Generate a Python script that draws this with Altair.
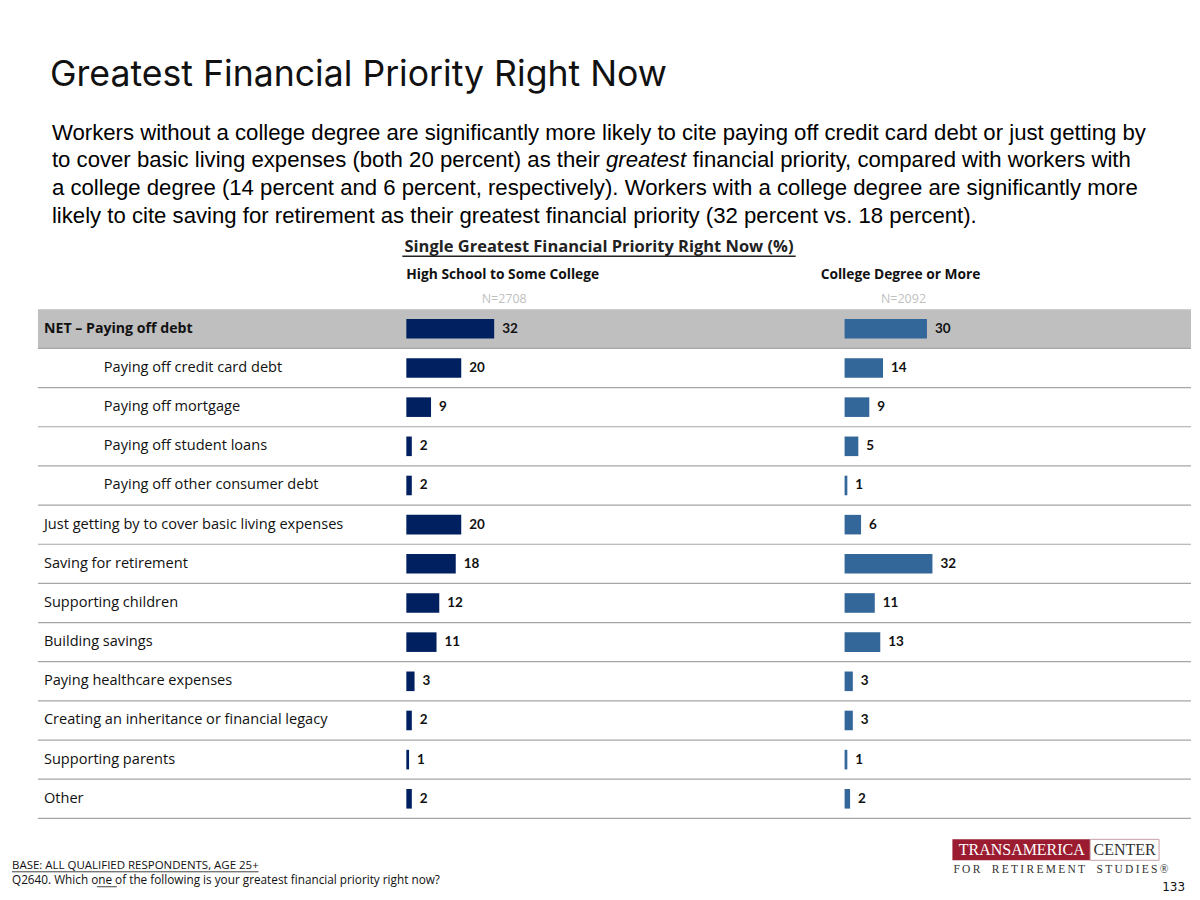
import altair as alt
import pandas as pd

categories = [
    "NET \u2013 Paying off debt",
    "Paying off credit card debt",
    "Paying off mortgage",
    "Paying off student loans",
    "Paying off other consumer debt",
    "Just getting by to cover basic living expenses",
    "Saving for retirement",
    "Supporting children",
    "Building savings",
    "Paying healthcare expenses",
    "Creating an inheritance or financial legacy",
    "Supporting parents",
    "Other",
]
levels = [0, 1, 1, 1, 1, 0, 0, 0, 0, 0, 0, 0, 0]
high_school = [32, 20, 9, 2, 2, 20, 18, 12, 11, 3, 2, 1, 2]
college = [30, 14, 9, 5, 1, 6, 32, 11, 13, 3, 3, 1, 2]

title = "Greatest Financial Priority Right Now"
para_lines = [
    "Workers without a college degree are significantly more likely to cite paying off credit card debt or just getting by",
    "to cover basic living expenses (both 20 percent) as their",
    "greatest",
    "financial priority, compared with workers with",
    "a college degree (14 percent and 6 percent, respectively). Workers with a college degree are significantly more",
    "likely to cite saving for retirement as their greatest financial priority (32 percent vs. 18 percent).",
]
table_title = "Single Greatest Financial Priority Right Now (%)"
group_names = ["High School to Some College", "College Degree or More"]
group_n = ["N=2708", "N=2092"]
base_note = "BASE: ALL QUALIFIED RESPONDENTS, AGE 25+"
question_note = "Q2640. Which one of the following is your greatest financial priority right now?"
logo_top = ["TRANSAMERICA", "CENTER"]
logo_bottom = "FOR RETIREMENT STUDIES\u00ae"
page_no = "133"

df = pd.DataFrame({
    "category": categories,
    "level": levels,
    "hs": high_school,
    "col": college,
    "net": [i == 0 for i in range(len(categories))],
})

LEFT_C = "#002060"
RIGHT_C = "#336699"
LABEL_FONT = "Open Sans"
NUM_FONT = "Lato"

yscale = alt.Scale(domain=categories, range=[301, 811], paddingInner=0, paddingOuter=0)
Y = alt.Y("category:N", scale=yscale, axis=None)
xs_left = alt.Scale(domain=[0, 100], range=[399, 674])
xs_right = alt.Scale(domain=[0, 100], range=[838, 1113])

base = alt.Chart(df)

bg = base.transform_filter("datum.net").mark_rect(color="#bfbfbf").encode(
    y=Y, x=alt.value(30), x2=alt.value(1185)
)
sep = base.mark_rule(color="#a6a6a6", strokeWidth=1.2).encode(
    y=alt.Y("category:N", scale=yscale, axis=None, bandPosition=1),
    x=alt.value(30), x2=alt.value(1185),
)

LS = 14.6
lab_main = base.transform_filter("datum.level == 0 && !datum.net").mark_text(
    align="left", baseline="middle", font=LABEL_FONT, fontSize=LS, color="#111111"
).encode(y=Y, x=alt.value(36), text="category:N")
lab_net = base.transform_filter("datum.net").mark_text(
    align="left", baseline="middle", font=LABEL_FONT, fontSize=14.2, fontWeight="bold", color="#111111"
).encode(y=Y, x=alt.value(36), text="category:N")
lab_sub = base.transform_filter("datum.level == 1").mark_text(
    align="left", baseline="middle", font=LABEL_FONT, fontSize=LS, color="#111111"
).encode(y=Y, x=alt.value(96), text="category:N")

bars_l = base.mark_bar(color=LEFT_C, height=alt.RelativeBandSize(0.5)).encode(
    y=Y, x=alt.X("hs:Q", scale=xs_left, axis=None)
)
text_l = base.mark_text(align="left", baseline="middle", dx=8, font=NUM_FONT, fontSize=13.5,
                        fontWeight="bold", color="#111111").encode(
    y=Y, x=alt.X("hs:Q", scale=xs_left, axis=None), text="hs:Q"
)
bars_r = base.mark_bar(color=RIGHT_C, height=alt.RelativeBandSize(0.5)).encode(
    y=Y, x=alt.X("col:Q", scale=xs_right, axis=None)
)
text_r = base.mark_text(align="left", baseline="middle", dx=8, font=NUM_FONT, fontSize=13.5,
                        fontWeight="bold", color="#111111").encode(
    y=Y, x=alt.X("col:Q", scale=xs_right, axis=None), text="col:Q"
)

left_group = alt.layer(bars_l, text_l)
right_group = alt.layer(bars_r, text_r)


def one():
    return alt.Chart(alt.Data(values=[{"k": 1}]))


def txt(s, x, y, align="left", **kw):
    return one().mark_text(text=s, align=align, baseline="alphabetic", **kw).encode(
        x=alt.value(x), y=alt.value(y)
    )


def rule(x1, x2, y, color="#222222", w=1.0):
    return one().mark_rule(color=color, strokeWidth=w).encode(
        x=alt.value(x1), x2=alt.value(x2), y=alt.value(y)
    )


def box(x1, x2, y1, y2, fill, stroke=""):
    kw = {"fill": fill}
    if stroke:
        kw["stroke"] = stroke
        kw["strokeWidth"] = 1
    return one().mark_rect(**kw).encode(
        x=alt.value(x1), x2=alt.value(x2), y=alt.value(y1), y2=alt.value(y2)
    )


spaced_bottom = "\u2003".join("\u2009".join(w) for w in logo_bottom.split(" "))

PF = "Liberation Sans"
PS = 22.2
annotations = [
    txt(title, 42, 77, font="Inter", fontSize=35.7, color="#111111"),
    txt(para_lines[0], 44, 131, font=PF, fontSize=PS, color="#000000"),
    txt(para_lines[1], 44, 159, font=PF, fontSize=PS, color="#000000"),
    txt(para_lines[2], 599, 159, font=PF, fontSize=PS, fontStyle="italic", color="#000000"),
    txt(para_lines[3], 686, 159, font=PF, fontSize=PS, color="#000000"),
    txt(para_lines[4], 44, 187, font=PF, fontSize=PS, color="#000000"),
    txt(para_lines[5], 44, 215, font=PF, fontSize=PS, color="#000000"),
    txt(table_title, 592, 244, align="center", font=LABEL_FONT, fontSize=16.5, fontWeight="bold", color="#222222"),
    rule(395, 789, 248, color="#222222", w=1.5),
    txt(group_names[0], 399, 271, font=LABEL_FONT, fontSize=13.8, fontWeight="bold", color="#111111"),
    txt(group_names[1], 814, 271, font=LABEL_FONT, fontSize=13.8, fontWeight="bold", color="#111111"),
    txt(group_n[0], 497, 295, align="center", font=LABEL_FONT, fontSize=12.5, color="#bfbfbf"),
    txt(group_n[1], 897, 295, align="center", font=LABEL_FONT, fontSize=12.5, color="#bfbfbf"),
    txt(base_note, 4, 862, font=LABEL_FONT, fontSize=11.5, color="#111111"),
    rule(4, 251, 864.5, color="#111111", w=0.8),
    txt(question_note, 4, 877, font=LABEL_FONT, fontSize=11.8, color="#111111"),
    rule(89, 109, 879.5, color="#111111", w=0.8),
    box(946, 1084, 832, 853, "#9b1c31"),
    box(1084, 1153, 832, 853, "#ffffff", stroke="#c9a0a8"),
    txt(logo_top[0], 1015.5, 848, align="center", font="Liberation Serif", fontSize=16, color="#ffffff"),
    txt(logo_top[1], 1118.5, 848, align="center", font="Liberation Serif", fontSize=16, color="#333333"),
    txt(spaced_bottom, 947, 866, font="Liberation Serif", fontSize=11.5, color="#333333"),
    txt(page_no, 1179, 884, align="right", font="DejaVu Sans", fontSize=12, color="#111111"),
]

chart = alt.layer(
    bg, sep, lab_main, lab_net, lab_sub, left_group, right_group, *annotations
).resolve_scale(x="independent").properties(
    width=1184, height=884, padding=0, background="#ffffff"
).configure_view(strokeWidth=0)

chart.save("out.html", embed_options={"renderer": "svg", "actions": False})
